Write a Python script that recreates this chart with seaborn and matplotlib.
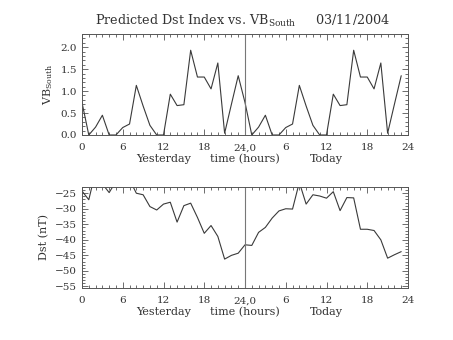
import matplotlib
matplotlib.use("Agg")
import matplotlib.pyplot as plt
from matplotlib.ticker import MultipleLocator, FixedLocator, FormatStrFormatter
import seaborn as sns
import pandas as pd

# ---- data ----
hours = list(range(48))  # 0-23 yesterday, 24-47 today
vb_yesterday = [0.74, 0.0, 0.18, 0.45, 0.0, 0.0, 0.17, 0.25, 1.13, 0.66, 0.22, 0.0,
                0.0, 0.93, 0.67, 0.69, 1.93, 1.32, 1.32, 1.05, 1.64, 0.04, 0.70, 1.35]
vb_today = [0.74, 0.0, 0.18, 0.45, 0.0, 0.0, 0.17, 0.25, 1.13, 0.66, 0.22, 0.0,
            0.0, 0.93, 0.67, 0.69, 1.93, 1.32, 1.32, 1.05, 1.64, 0.04, 0.70, 1.35]
dst_yesterday = [-24.3, -27.1, -18.0, -22.0, -24.8, -21.2, -20.0, -20.6, -25.0, -25.5, -29.3, -30.4,
                 -28.5, -27.9, -34.3, -29.0, -28.2, -32.8, -37.9, -35.4, -38.9, -46.2, -45.0, -44.3]
dst_today = [-41.6, -41.8, -37.6, -36.0, -33.0, -30.7, -30.0, -30.1, -21.5, -28.5, -25.5, -25.9,
             -26.6, -24.5, -30.6, -26.4, -26.5, -36.6, -36.6, -37.0, -40.0, -45.9, -44.8, -43.8]

xtick_pos = [0, 6, 12, 18, 24, 30, 36, 42, 48]
xtick_labels = ["0", "6", "12", "18", "24,0", "6", "12", "18", "24"]
title_text = r"Predicted Dst Index vs. VB$_{\mathrm{South}}$     03/11/2004"

df_vb = pd.DataFrame({"hour": hours, "vb": vb_yesterday + vb_today})
df_dst = pd.DataFrame({"hour": hours, "dst": dst_yesterday + dst_today})

sns.set_style("ticks")
plt.rcParams["font.family"] = ["DejaVu Serif"]
plt.rcParams["mathtext.fontset"] = "dejavuserif"

TXT = "#333333"
LINE = "#3a3a3a"
FRAME = "#555555"

fig = plt.figure(figsize=(4.53, 3.40), dpi=100)
ax1 = fig.add_axes([82 / 453, 1 - 135 / 340, 326 / 453, 101 / 340])
ax2 = fig.add_axes([82 / 453, 1 - 288 / 340, 326 / 453, 101 / 340])

sns.lineplot(data=df_vb, x="hour", y="vb", ax=ax1, color=LINE, lw=0.8)
sns.lineplot(data=df_dst, x="hour", y="dst", ax=ax2, color=LINE, lw=0.8)

ax1.set_ylim(0, 2.3)
ax2.set_ylim(-55.5, -23.0)
ax1.yaxis.set_major_locator(MultipleLocator(0.5))
ax1.yaxis.set_minor_locator(MultipleLocator(0.1))
ax1.yaxis.set_major_formatter(FormatStrFormatter("%.1f"))
ax2.yaxis.set_major_locator(MultipleLocator(5))
ax2.yaxis.set_minor_locator(MultipleLocator(1))

for ax in (ax1, ax2):
    ax.set_xlim(0, 48)
    ax.xaxis.set_major_locator(FixedLocator(xtick_pos))
    ax.set_xticklabels(xtick_labels)
    ax.xaxis.set_minor_locator(MultipleLocator(1))
    ax.tick_params(which="both", direction="in", top=True, right=True,
                   colors=FRAME, labelcolor=TXT, labelsize=7.5, width=0.6)
    ax.tick_params(which="major", length=4)
    ax.tick_params(which="minor", length=2)
    ax.tick_params(axis="x", pad=6)
    for s in ax.spines.values():
        s.set_color(FRAME)
        s.set_linewidth(0.7)
    ax.axvline(24, color="#777777", lw=0.8)
    ax.set_xlabel("")
    for xv, t in [(12, "Yesterday"), (24, "time (hours)"), (36, "Today")]:
        ax.annotate(t, xy=(xv, 0), xycoords=("data", "axes fraction"),
                    xytext=(0, -17), textcoords="offset points",
                    ha="center", va="center", fontsize=8, color=TXT)

ax1.set_ylabel(r"VB$_{\mathrm{South}}$", fontsize=8, color=TXT, labelpad=4)
ax2.set_ylabel("Dst (nT)", fontsize=8, color=TXT, labelpad=4)

fig.text(243 / 453, 1 - 21 / 340, title_text, ha="center", va="center",
         fontsize=9.2, color=TXT)

fig.savefig("out.png", dpi=100, facecolor="white")
